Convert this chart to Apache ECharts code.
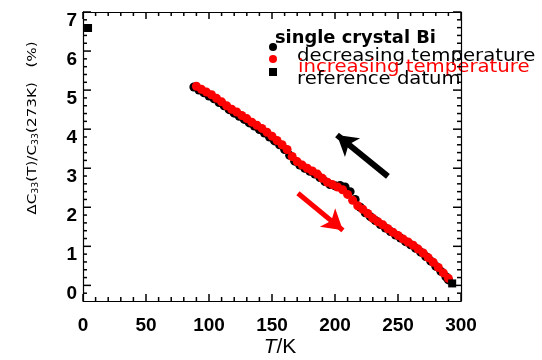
<!DOCTYPE html>
<html>
<head>
<meta charset="utf-8">
<script src="https://cdn.jsdelivr.net/npm/echarts@6/dist/echarts.min.js"></script>
<style>html,body{margin:0;padding:0;background:#fff;}#c{width:542px;height:360px;}#err{position:absolute;left:0;top:0;font:10px monospace;color:#00f;}</style>
</head>
<body>
<div id="c"></div>
<div id="err"></div>
<script>
// Tick values / labels
const xMajorTicks = [0, 50, 100, 150, 200, 250, 300];
const xMinorTicks = [10,20,30,40,60,70,80,90,110,120,130,140,160,170,180,190,210,220,230,240,260,270,280,290];
const yMajorTicks = [0, 1, 2, 3, 4, 5, 6, 7];
const yMinorTicks = [-0.2,0.2,0.4,0.6,0.8,1.2,1.4,1.6,1.8,2.2,2.4,2.6,2.8,3.2,3.4,3.6,3.8,4.2,4.4,4.6,4.8,5.2,5.4,5.6,5.8,6.2,6.4,6.6,6.8];

// decreasing temperature (black)
const decT = [88,92,96,100,104,108,112,116,120,124,128,132,136,140,144,148,152,156,160,164,168,172,176,180,184,188,192,196,200,204,208,212,216,220,224,228,232,236,240,244,248,252,256,260,264,268,272,276,280,284,288,290];
const decV = [5.08,5.00,4.93,4.85,4.78,4.68,4.60,4.50,4.41,4.33,4.25,4.16,4.08,3.99,3.90,3.80,3.70,3.60,3.48,3.33,3.18,3.08,3.00,2.92,2.85,2.76,2.66,2.58,2.55,2.56,2.52,2.40,2.20,2.00,1.86,1.76,1.66,1.56,1.47,1.38,1.29,1.21,1.12,1.04,0.95,0.85,0.74,0.62,0.49,0.36,0.22,0.14];

// increasing temperature (red)
const incT = [90,94,98,102,106,110,114,118,122,126,130,134,138,142,146,150,154,158,162,166,170,174,178,182,186,190,194,198,202,206,210,214,218,222,226,230,234,238,242,246,250,254,258,262,266,270,274,278,282,286,290];
const incV = [5.10,5.02,4.95,4.88,4.79,4.70,4.60,4.51,4.44,4.35,4.27,4.18,4.10,4.02,3.92,3.82,3.71,3.60,3.48,3.30,3.17,3.08,3.00,2.93,2.85,2.74,2.64,2.58,2.52,2.45,2.33,2.18,2.04,1.95,1.84,1.72,1.63,1.55,1.45,1.36,1.28,1.19,1.11,1.03,0.93,0.83,0.71,0.59,0.46,0.32,0.18];

// reference datum (black squares)
const refT = [4, 293];
const refV = [6.59, 0.05];

const zip = (a, b) => a.map((v, i) => [v, b[i]]);

try {
const chart = echarts.init(document.getElementById('c'), null, {renderer: 'canvas'});
const frameLine = {show: true, onZero: false, lineStyle: {color: '#000', width: 1.2}};
const lblFont = {fontFamily: 'Liberation Sans', fontWeight: 'bold', fontSize: 19, color: '#000'};

// tick items: [x, y, length, kind]  kind 0 = x-axis tick, 1 = y-axis tick
const tickData = xMajorTicks.map(v => [v, 0, 7, 0])
  .concat(xMinorTicks.map(v => [v, 0, 4, 0]))
  .concat(yMajorTicks.map(v => [0, v, 8, 1]))
  .concat(yMinorTicks.map(v => [0, v, 4, 1]));
const tickLine = (x1, y1, x2, y2) => ({type: 'line', shape: {x1: x1, y1: y1, x2: x2, y2: y2}, style: {stroke: '#000', lineWidth: 1.5}});

const option = {
  animation: false,
  backgroundColor: '#fff',
  grid: {left: 83, right: 81, top: 12, bottom: 59, containLabel: false, outerBoundsMode: 'none'},
  xAxis: [
    {type: 'value', position: 'bottom', min: 0, max: 300, interval: 50,
     axisLine: frameLine, axisTick: {show: false}, splitLine: {show: false},
     axisLabel: Object.assign({margin: 15}, lblFont)},
    {type: 'value', position: 'top', min: 0, max: 300, interval: 50,
     axisLine: frameLine, axisTick: {show: false}, splitLine: {show: false}, axisLabel: {show: false}}
  ],
  yAxis: [
    {type: 'value', position: 'left', min: -0.4, max: 7,
     axisLine: frameLine, axisTick: {show: false}, splitLine: {show: false},
     axisLabel: Object.assign({margin: 6, customValues: yMajorTicks, verticalAlign: 'top', lineHeight: 17}, lblFont)},
    {type: 'value', position: 'right', min: -0.4, max: 7,
     axisLine: frameLine, axisTick: {show: false}, splitLine: {show: false}, axisLabel: {show: false}}
  ],
  series: [
    {name: 'ticks', type: 'custom', xAxisIndex: 0, yAxisIndex: 0, clip: false, silent: true, z: 5,
     data: tickData, encode: {x: 0, y: 1},
     renderItem: function (params, api) {
       const cs = params.coordSys;
       const p = api.coord([api.value(0), api.value(1)]);
       const len = api.value(2);
       const kind = api.value(3);
       const xl = cs.x, xr = cs.x + cs.width, yt = cs.y, yb = cs.y + cs.height;
       if (kind === 0) {
         return {type: 'group', children: [tickLine(p[0], yb, p[0], yb - len), tickLine(p[0], yt, p[0], yt + len)]};
       }
       return {type: 'group', children: [tickLine(xl, p[1], xl + len, p[1]), tickLine(xr, p[1], xr - len, p[1])]};
     }},
    {name: 'decreasing temperature', type: 'scatter', xAxisIndex: 0, yAxisIndex: 0, data: zip(decT, decV), symbol: 'circle', symbolSize: 9,
     itemStyle: {color: '#000', opacity: 1},
     markLine: {silent: true, symbol: ['none', 'arrow'], symbolSize: [18, 20], label: {show: false},
       lineStyle: {color: '#000', width: 6, type: 'solid', opacity: 1},
       data: [[{coord: [242, 2.79]}, {coord: [201.6, 3.85]}]]}},
    {name: 'increasing temperature', type: 'scatter', xAxisIndex: 0, yAxisIndex: 0, data: zip(incT, incV), symbol: 'circle', symbolSize: 9,
     itemStyle: {color: '#ff0000', opacity: 1},
     markLine: {silent: true, symbol: ['none', 'arrow'], symbolSize: [18, 20], label: {show: false},
       lineStyle: {color: '#ff0000', width: 5, type: 'solid', opacity: 1},
       data: [[{coord: [170.6, 2.36]}, {coord: [206.3, 1.41]}]]}},
    {name: 'reference datum', type: 'scatter', xAxisIndex: 0, yAxisIndex: 0, data: zip(refT, refV), symbol: 'rect', symbolSize: 8,
     itemStyle: {color: '#000', opacity: 1}}
  ],
  graphic: [
    {type: 'text', x: 33, y: 128, rotation: Math.PI / 2, scaleX: 1.17,
     style: {text: 'ΔC{s|33}(T)/C{s|33}(273K)   (%)', fill: '#000', font: '13px "DejaVu Sans"',
       align: 'center', verticalAlign: 'middle',
       rich: {s: {fontSize: 8, fontFamily: 'DejaVu Sans', verticalAlign: 'bottom', padding: [6, 0, 0, 0]}}}},
    {type: 'text', x: 280, y: 337, style: {text: '{i|T}/K', fill: '#000', font: '21px "Liberation Sans"', align: 'center', verticalAlign: 'top',
       rich: {i: {fontFamily: 'Liberation Sans', fontStyle: 'italic', fontSize: 21}}}},
    {type: 'circle', shape: {cx: 273, cy: 47, r: 4}, style: {fill: '#000'}},
    {type: 'circle', shape: {cx: 273, cy: 59, r: 4}, style: {fill: '#ff0000'}},
    {type: 'rect', shape: {x: 269, y: 68, width: 8, height: 8}, style: {fill: '#000'}},
    {type: 'text', x: 275, y: 39, scaleX: 1.05, style: {text: 'single crystal Bi', fill: '#000', font: 'bold 17px "DejaVu Sans"', verticalAlign: 'middle'}},
    {type: 'text', x: 297, y: 56, scaleX: 1.095, style: {text: 'decreasing temperature', fill: '#000', font: '18px "DejaVu Sans"', verticalAlign: 'middle'}},
    {type: 'text', x: 298, y: 67, scaleX: 1.095, style: {text: 'increasing temperature', fill: '#ff0000', font: '18px "DejaVu Sans"', verticalAlign: 'middle'}},
    {type: 'text', x: 297, y: 79, scaleX: 1.09, style: {text: 'reference datum', fill: '#000', font: '18px "DejaVu Sans"', verticalAlign: 'middle'}}
  ]
};
chart.setOption(option);
} catch (e) {
  document.getElementById('err').textContent = 'ERR: ' + e.message;
}
window.onerror = function (m) { document.getElementById('err').textContent += ' ERR2: ' + m; };
</script>
</body>
</html>
